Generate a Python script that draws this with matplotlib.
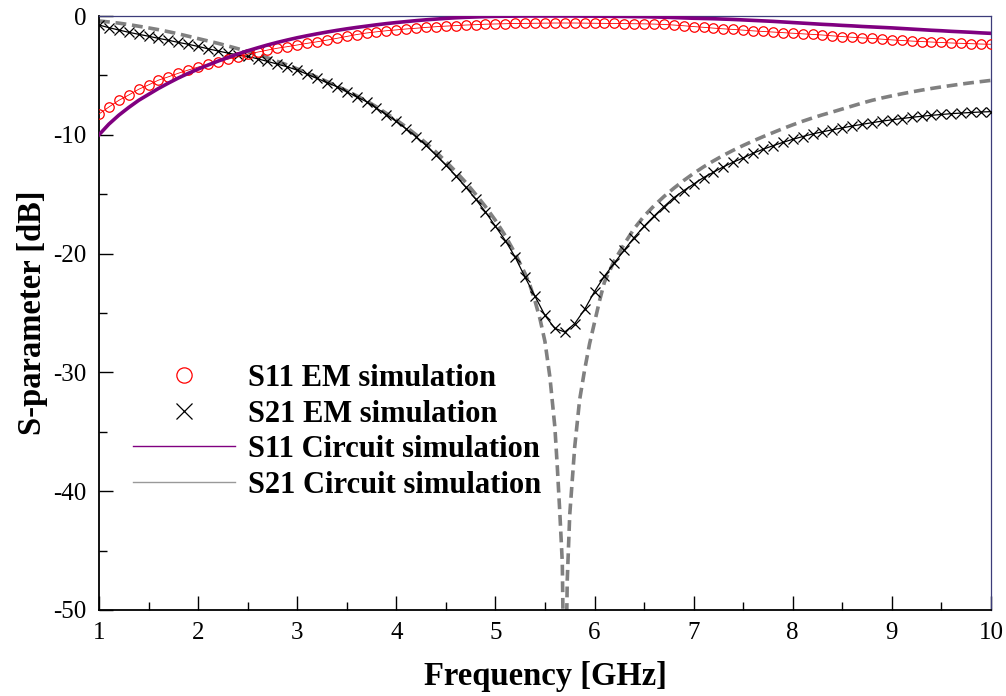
import numpy as np
import matplotlib
matplotlib.use("Agg")
from matplotlib import pyplot as plt
from matplotlib.lines import Line2D
from matplotlib.ticker import MultipleLocator

plt.rcParams["font.family"] = ["Liberation Serif", "DejaVu Serif"]
plt.rcParams["axes.unicode_minus"] = False

# EM sweep: 1-10 GHz, 0.1 GHz step
freq_em = np.round(np.arange(1.0, 10.01, 0.1), 1)

s11_em = [
    -8.25, -7.66, -7.10, -6.65, -6.17, -5.80, -5.40, -5.12, -4.82, -4.55,
    -4.30, -4.06, -3.86, -3.63, -3.45, -3.22, -3.04, -2.87, -2.71, -2.58,
    -2.44, -2.30, -2.17, -2.03, -1.88, -1.72, -1.56, -1.43, -1.33, -1.24,
    -1.17, -1.09, -1.03, -0.96, -0.90, -0.85, -0.81, -0.76, -0.73, -0.69,
    -0.67, -0.65, -0.63, -0.62, -0.61, -0.60, -0.59, -0.59, -0.59, -0.60,
    -0.61, -0.62, -0.63, -0.64, -0.65, -0.66, -0.68, -0.71, -0.76, -0.82,
    -0.89, -0.95, -1.02, -1.08, -1.13, -1.19, -1.25, -1.30, -1.35, -1.40,
    -1.45, -1.50, -1.55, -1.60, -1.67, -1.73, -1.79, -1.84, -1.89, -1.95,
    -2.01, -2.06, -2.11, -2.15, -2.19, -2.23, -2.27, -2.30, -2.33, -2.36,
    -2.38,
]

s21_em = [
    -0.76, -0.98, -1.18, -1.37, -1.54, -1.70, -1.88, -2.04, -2.22, -2.38,
    -2.56, -2.76, -2.94, -3.12, -3.28, -3.40, -3.60, -3.82, -4.05, -4.28,
    -4.55, -4.90, -5.25, -5.60, -5.95, -6.37, -6.80, -7.22, -7.75, -8.30,
    -8.88, -9.50, -10.15, -10.90, -11.70, -12.55, -13.45, -14.40, -15.40, -16.50,
    -17.70, -18.90, -20.30, -22.00, -23.60, -25.20, -26.30, -26.60, -25.90, -24.70,
    -23.20, -21.90, -20.80, -19.70, -18.65, -17.70, -16.85, -16.05, -15.30, -14.70,
    -14.15, -13.60, -13.15, -12.70, -12.30, -11.95, -11.55, -11.22, -10.92, -10.64,
    -10.38, -10.15, -9.93, -9.75, -9.58, -9.42, -9.26, -9.12, -8.98, -8.85,
    -8.74, -8.63, -8.53, -8.44, -8.36, -8.29, -8.22, -8.17, -8.12, -8.08,
    -8.05,
]

# circuit model, S11 on the same grid
s11_circ = [
    -10.0, -9.10, -8.35, -7.70, -7.10, -6.60, -6.10, -5.65, -5.22, -4.83,
    -4.47, -4.13, -3.80, -3.50, -3.20, -2.93, -2.68, -2.44, -2.22, -2.02,
    -1.83, -1.66, -1.50, -1.35, -1.21, -1.08, -0.96, -0.85, -0.74, -0.64,
    -0.55, -0.47, -0.39, -0.32, -0.26, -0.20, -0.15, -0.11, -0.08, -0.05,
    -0.03, -0.02, -0.01, 0.0, 0.0, 0.0, 0.0, 0.0, 0.0, -0.01,
    -0.01, -0.02, -0.03, -0.04, -0.05, -0.06, -0.08, -0.10, -0.13, -0.16,
    -0.19, -0.21, -0.23, -0.26, -0.29, -0.33, -0.37, -0.41, -0.45, -0.50,
    -0.55, -0.60, -0.65, -0.70, -0.74, -0.79, -0.83, -0.88, -0.92, -0.96,
    -1.00, -1.05, -1.10, -1.15, -1.20, -1.24, -1.29, -1.33, -1.37, -1.42,
    -1.46,
]

# circuit model, S21 (finer steps around the transmission zero)
freq_s21_circ = [
    1.0, 1.1, 1.2, 1.3, 1.4, 1.5, 1.6, 1.7, 1.8, 1.9,
    2.0, 2.1, 2.2, 2.3, 2.4, 2.5, 2.6, 2.7, 2.8, 2.9,
    3.0, 3.1, 3.2, 3.3, 3.4, 3.5, 3.6, 3.7, 3.8, 3.9,
    4.0, 4.1, 4.2, 4.3, 4.4, 4.5, 4.6, 4.7, 4.8, 4.9,
    5.0, 5.1, 5.2, 5.3, 5.35, 5.4, 5.45, 5.5, 5.55, 5.6,
    5.625, 5.65, 5.675, 5.7, 5.725, 5.75, 5.8, 5.85, 5.9, 5.95,
    6.0, 6.05, 6.1, 6.2, 6.3, 6.4, 6.5, 6.6, 6.7, 6.8,
    6.9, 7.0, 7.1, 7.2, 7.3, 7.4, 7.5, 7.6, 7.7, 7.8,
    7.9, 8.0, 8.1, 8.2, 8.3, 8.4, 8.5, 8.6, 8.7, 8.8,
    8.9, 9.0, 9.1, 9.2, 9.3, 9.4, 9.5, 9.6, 9.7, 9.8,
    9.9, 10.0,
]
s21_circ = [
    -0.42, -0.50, -0.60, -0.72, -0.86, -1.00, -1.15, -1.32, -1.50, -1.70,
    -1.90, -2.10, -2.30, -2.52, -2.75, -3.00, -3.25, -3.52, -3.82, -4.12,
    -4.45, -4.80, -5.15, -5.52, -5.90, -6.30, -6.72, -7.15, -7.65, -8.20,
    -8.75, -9.35, -10.0, -10.7, -11.45, -12.25, -13.1, -14.0, -15.0, -16.05,
    -17.2, -18.5, -20.0, -21.7, -22.7, -24.0, -25.5, -27.4, -30.4, -34.6,
    -38.0, -41.8, -46.0, -62.0, -47.5, -42.0, -36.3, -32.3, -29.8, -27.6,
    -25.8, -24.0, -22.4, -20.6, -19.2, -17.9, -16.85, -15.98, -15.2, -14.5,
    -13.85, -13.25, -12.7, -12.2, -11.73, -11.3, -10.9, -10.52, -10.16, -9.82,
    -9.48, -9.16, -8.86, -8.58, -8.32, -8.08, -7.83, -7.58, -7.33, -7.10,
    -6.90, -6.72, -6.55, -6.39, -6.24, -6.10, -5.97, -5.85, -5.73, -5.62,
    -5.52, -5.42,
]

fig = plt.figure(figsize=(10.06, 6.96), dpi=100)
ax = fig.add_axes([0.0984, 0.1236, 0.8866, 0.8534])

ax.plot(freq_s21_circ, s21_circ, color="#808080", lw=2.6, dashes=(3.0, 1.6), zorder=2)
ax.plot(freq_em, s21_em, color="black", lw=0.9, marker="x", ms=7, mew=0.9, zorder=3)
ax.plot(freq_em, s11_em, color="red", lw=0.6, marker="o", ms=6.8, mfc="none", mew=0.9, zorder=3)
ax.plot(freq_em, s11_circ, color="#800080", lw=2.6, zorder=4)

ax.set_xlim(1, 10)
ax.set_ylim(-50, 0)
ax.xaxis.set_major_locator(MultipleLocator(1))
ax.xaxis.set_minor_locator(MultipleLocator(0.5))
ax.yaxis.set_major_locator(MultipleLocator(10))
ax.yaxis.set_minor_locator(MultipleLocator(5))
ax.tick_params(which="both", direction="in", top=False, right=False, labelsize=18, width=1.0)
ax.tick_params(which="major", length=10, pad=9)
ax.tick_params(which="minor", length=5.5)

for side in ["left", "bottom"]:
    ax.spines[side].set_color("black")
    ax.spines[side].set_linewidth(1.3)
for side in ["top", "right"]:
    ax.spines[side].set_color("#3c3c7a")
    ax.spines[side].set_linewidth(0.9)

ax.set_xlabel("Frequency [GHz]", fontsize=23.5, fontweight="bold", labelpad=12)
ax.set_ylabel("S-parameter [dB]", fontsize=23.5, fontweight="bold", labelpad=4)

handles = [
    Line2D([], [], ls="none", marker="o", ms=11, mfc="none", mec="red", mew=0.9),
    Line2D([], [], ls="none", marker="x", ms=11, color="black", mew=0.9),
    Line2D([], [], color="#800080", lw=1.0),
    Line2D([], [], color="#999999", lw=1.0),
]
labels = ["S11 EM simulation", "S21 EM simulation",
          "S11 Circuit simulation", "S21 Circuit simulation"]
ax.legend(handles, labels, loc="upper left", bbox_to_anchor=(0.1322, 0.477),
          bbox_transform=fig.transFigure, frameon=False, borderpad=0,
          borderaxespad=0, handlelength=3.33, handletextpad=0.42,
          labelspacing=0.215, prop={"size": 22, "weight": "bold"})

fig.savefig("out.png", dpi=100)
